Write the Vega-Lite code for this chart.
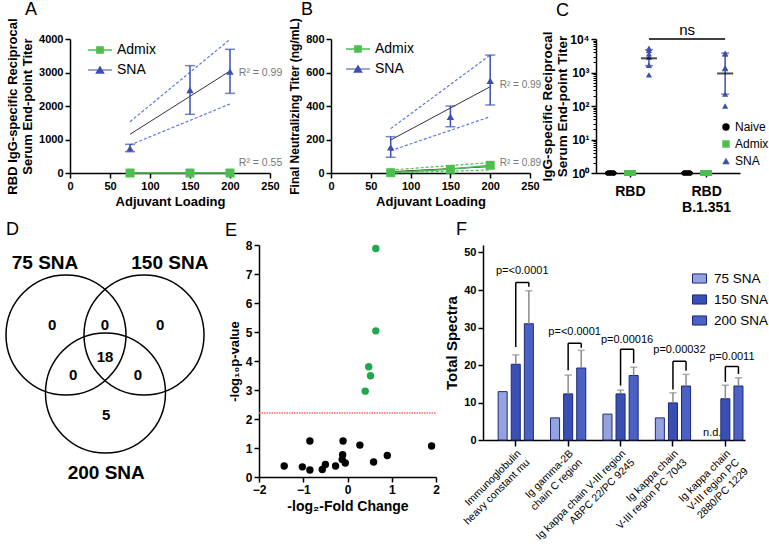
{
"$schema": "https://vega.github.io/schema/vega-lite/v6.json",
"padding": {"left": 2, "top": 0, "right": 0, "bottom": 0},
"autosize": {"type": "pad"},
"background": "white",
"config": {
  "view": {"stroke": null},
  "font": "Liberation Sans",
  "axis": {"labelFont": "Liberation Sans", "titleFont": "Liberation Sans", "labelFontWeight": "bold", "titleFontWeight": "bold", "labelColor": "#000", "titleColor": "#000", "domainColor": "#000", "tickColor": "#000", "domainWidth": 1.5, "tickWidth": 1.5, "tickSize": 5, "grid": false, "labelFontSize": 11, "titleFontSize": 13, "labelFlush": false, "labelOverlap": false},
  "title": {"font": "Liberation Sans", "fontSize": 18, "fontWeight": "normal", "anchor": "start", "frame": "group", "color": "#000"},
  "legend": {"labelFont": "Liberation Sans", "labelColor": "#000"},
  "text": {"font": "Liberation Sans"}
},
"datasets": {
  "abl": [
    {"p":"A","s":"SNA","k":"ci","l":"u","x":75,"y":1530},{"p":"A","s":"SNA","k":"ci","l":"u","x":200,"y":3990},
    {"p":"A","s":"SNA","k":"ci","l":"d","x":75,"y":836},{"p":"A","s":"SNA","k":"ci","l":"d","x":200,"y":2060},
    {"p":"A","s":"SNA","k":"fit","l":"f","x":75,"y":1155},{"p":"A","s":"SNA","k":"fit","l":"f","x":200,"y":3045},
    {"p":"A","s":"Admix","k":"fit","l":"f","x":75,"y":0},{"p":"A","s":"Admix","k":"fit","l":"f","x":200,"y":0},
    {"p":"A","s":"Admix","k":"conn","l":"c","x":75,"y":0},{"p":"A","s":"Admix","k":"conn","l":"c","x":150,"y":0},{"p":"A","s":"Admix","k":"conn","l":"c","x":200,"y":0},
    {"p":"B","s":"SNA","k":"ci","l":"u","x":75,"y":265},{"p":"B","s":"SNA","k":"ci","l":"u","x":200,"y":704},
    {"p":"B","s":"SNA","k":"ci","l":"d","x":75,"y":133},{"p":"B","s":"SNA","k":"ci","l":"d","x":200,"y":336},
    {"p":"B","s":"SNA","k":"fit","l":"f","x":75,"y":197},{"p":"B","s":"SNA","k":"fit","l":"f","x":200,"y":515},
    {"p":"B","s":"Admix","k":"ci","l":"u","x":75,"y":18},{"p":"B","s":"Admix","k":"ci","l":"u","x":200,"y":62},
    {"p":"B","s":"Admix","k":"ci","l":"d","x":75,"y":0},{"p":"B","s":"Admix","k":"ci","l":"d","x":200,"y":18},
    {"p":"B","s":"Admix","k":"fit","l":"f","x":75,"y":8},{"p":"B","s":"Admix","k":"fit","l":"f","x":200,"y":38},
    {"p":"B","s":"Admix","k":"conn","l":"c","x":75,"y":2},{"p":"B","s":"Admix","k":"conn","l":"c","x":150,"y":22},{"p":"B","s":"Admix","k":"conn","l":"c","x":200,"y":46}
  ],
  "abp": [
    {"p":"A","s":"Admix","x":75,"y":0},{"p":"A","s":"Admix","x":150,"y":0},{"p":"A","s":"Admix","x":200,"y":0},
    {"p":"A","s":"SNA","x":75,"y":736,"lo":636,"hi":856},{"p":"A","s":"SNA","x":150,"y":2478,"lo":1752,"hi":3204},{"p":"A","s":"SNA","x":200,"y":3025,"lo":2378,"hi":3692},
    {"p":"B","s":"Admix","x":75,"y":2},{"p":"B","s":"Admix","x":150,"y":22},{"p":"B","s":"Admix","x":200,"y":46},
    {"p":"B","s":"SNA","x":75,"y":153,"lo":94,"hi":217},{"p":"B","s":"SNA","x":150,"y":336,"lo":276,"hi":400},{"p":"B","s":"SNA","x":200,"y":551,"lo":406,"hi":704}
  ],
  "abt": [
    {"p":"A","x":211,"y":2976,"t":"R² = 0.99"},{"p":"A","x":211,"y":290,"t":"R² = 0.55"},
    {"p":"B","x":212,"y":525,"t":"R² = 0.99"},{"p":"B","x":212,"y":58,"t":"R² = 0.89"}
  ],
  "cp": [
    {"k":"RBD|Naive","grp":"Naive","v":1},{"k":"RBD|Naive","grp":"Naive","v":1},{"k":"RBD|Naive","grp":"Naive","v":1},{"k":"RBD|Naive","grp":"Naive","v":1},{"k":"RBD|Naive","grp":"Naive","v":1},{"k":"RBD|Naive","grp":"Naive","v":1},
    {"k":"RBD|Admix","grp":"Admix","v":1},{"k":"RBD|Admix","grp":"Admix","v":1},{"k":"RBD|Admix","grp":"Admix","v":1},{"k":"RBD|Admix","grp":"Admix","v":1},{"k":"RBD|Admix","grp":"Admix","v":1},{"k":"RBD|Admix","grp":"Admix","v":1},
    {"k":"RBD|SNA","grp":"SNA","v":5300},{"k":"RBD|SNA","grp":"SNA","v":4600},{"k":"RBD|SNA","grp":"SNA","v":3600},{"k":"RBD|SNA","grp":"SNA","v":2900},{"k":"RBD|SNA","grp":"SNA","v":1650},{"k":"RBD|SNA","grp":"SNA","v":850},
    {"k":"B|Naive","grp":"Naive","v":1},{"k":"B|Naive","grp":"Naive","v":1},{"k":"B|Naive","grp":"Naive","v":1},{"k":"B|Naive","grp":"Naive","v":1},{"k":"B|Naive","grp":"Naive","v":1},{"k":"B|Naive","grp":"Naive","v":1},
    {"k":"B|Admix","grp":"Admix","v":1},{"k":"B|Admix","grp":"Admix","v":1},{"k":"B|Admix","grp":"Admix","v":1},{"k":"B|Admix","grp":"Admix","v":1},{"k":"B|Admix","grp":"Admix","v":1},{"k":"B|Admix","grp":"Admix","v":1},
    {"k":"B|SNA","grp":"SNA","v":3800},{"k":"B|SNA","grp":"SNA","v":3550},{"k":"B|SNA","grp":"SNA","v":1380},{"k":"B|SNA","grp":"SNA","v":1300},{"k":"B|SNA","grp":"SNA","v":225},{"k":"B|SNA","grp":"SNA","v":100}
  ],
  "cs": [
    {"k":"RBD|SNA","m":2650,"lo":1600,"hi":4800},
    {"k":"B|SNA","m":935,"lo":225,"hi":3800}
  ],
  "cns": [{"k1":"RBD|SNA","k2":"B|SNA","v":10000}],
  "cnt": [{"k":"B|Naive","v":10000,"t":"ns"}],
  "vc": [{"x":0,"y":0},{"x":1.3,"y":0},{"x":0.658,"y":-0.967}],
  "vt": [
    {"x":-0.35,"y":1.2,"t":"75 SNA","k":"h"},{"x":1.73,"y":1.2,"t":"150 SNA","k":"h"},{"x":0.67,"y":-2.3,"t":"200 SNA","k":"h"},
    {"x":-0.23,"y":0.17,"t":"0","k":"n"},{"x":0.65,"y":0.17,"t":"0","k":"n"},{"x":1.57,"y":0.17,"t":"0","k":"n"},
    {"x":0.65,"y":-0.37,"t":"18","k":"n"},{"x":0.12,"y":-0.67,"t":"0","k":"n"},{"x":1.2,"y":-0.67,"t":"0","k":"n"},
    {"x":0.67,"y":-1.33,"t":"5","k":"n"}
  ],
  "ep": [
    {"x":0.64,"y":7.88,"s":"sig"},{"x":0.64,"y":5.04,"s":"sig"},{"x":0.48,"y":3.80,"s":"sig"},{"x":0.52,"y":3.49,"s":"sig"},{"x":0.40,"y":2.96,"s":"sig"},
    {"x":-1.43,"y":0.38,"s":"ns"},{"x":-1.02,"y":0.35,"s":"ns"},{"x":-0.85,"y":1.24,"s":"ns"},{"x":-0.85,"y":0.24,"s":"ns"},{"x":-0.57,"y":0.26,"s":"ns"},
    {"x":-0.50,"y":0.43,"s":"ns"},{"x":-0.27,"y":0.38,"s":"ns"},{"x":-0.10,"y":1.24,"s":"ns"},{"x":-0.11,"y":0.77,"s":"ns"},{"x":-0.12,"y":0.60,"s":"ns"},
    {"x":-0.05,"y":0.48,"s":"ns"},{"x":0.28,"y":1.10,"s":"ns"},{"x":0.59,"y":0.52,"s":"ns"},{"x":0.90,"y":0.74,"s":"ns"},{"x":1.90,"y":1.07,"s":"ns"}
  ],
  "eth": [{"y":2.21,"xa":-2,"xb":2}],
  "fb": [
    {"k":"1|75","s":"75 SNA","v":12.9},{"k":"1|150","s":"150 SNA","v":20.2,"hi":22.7},{"k":"1|200","s":"200 SNA","v":31.0,"hi":39.8},
    {"k":"2|75","s":"75 SNA","v":5.9},{"k":"2|150","s":"150 SNA","v":12.3,"hi":17.3},{"k":"2|200","s":"200 SNA","v":19.2,"hi":23.9},
    {"k":"3|75","s":"75 SNA","v":6.9},{"k":"3|150","s":"150 SNA","v":12.3,"hi":13.3},{"k":"3|200","s":"200 SNA","v":17.2,"hi":19.4},
    {"k":"4|75","s":"75 SNA","v":5.9},{"k":"4|150","s":"150 SNA","v":9.9,"hi":12.6},{"k":"4|200","s":"200 SNA","v":14.4,"hi":17.5},
    {"k":"5|150","s":"150 SNA","v":11.0,"hi":14.6},{"k":"5|200","s":"200 SNA","v":14.4,"hi":16.6}
  ],
  "fleg": [
    {"k":"1|150","a":24.8,"b":42.0},{"k":"1|200","a":40.9,"b":42.0},
    {"k":"2|150","a":18.6,"b":25.8},{"k":"2|200","a":24.6,"b":25.8},
    {"k":"3|150","a":14.5,"b":24.2},{"k":"3|200","a":20.5,"b":24.2},
    {"k":"4|150","a":13.5,"b":21.0},{"k":"4|200","a":18.5,"b":21.0},
    {"k":"5|150","a":15.5,"b":19.6},{"k":"5|200","a":17.6,"b":19.6}
  ],
  "fh": [
    {"k1":"1|150","k2":"1|200","y":42.0,"ty":45.0,"t":"p=<0.0001"},
    {"k1":"2|150","k2":"2|200","y":25.8,"ty":28.8,"t":"p=<0.0001"},
    {"k1":"3|150","k2":"3|200","y":24.2,"ty":26.7,"t":"p=0.00016"},
    {"k1":"4|150","k2":"4|200","y":21.0,"ty":23.9,"t":"p=0.00032"},
    {"k1":"5|150","k2":"5|200","y":19.6,"ty":22.1,"t":"p=0.0011"}
  ],
  "fnd": [{"k":"5|75","y":0,"t":"n.d."}]
},
"spacing": 7,
"resolve": {"scale": {"color": "independent", "shape": "independent", "size": "independent", "fill": "independent"}, "legend": {"color": "independent", "shape": "independent", "size": "independent", "fill": "independent"}},
"vconcat": [
{
"hconcat": [
{
  "width": 200, "height": 134,
  "title": {"text": "A", "dx": -45, "offset": -1},
  "encoding": {"x": {"field": "x", "type": "quantitative", "scale": {"domain": [0, 250], "nice": false}, "axis": {"values": [0,50,100,150,200,250], "title": "Adjuvant Loading", "titleFontSize": 13}}},
  "layer": [
    {"data": {"name": "abl"}, "transform": [{"filter": "datum.p == 'A' && datum.k == 'ci' && datum.s == 'SNA'"}],
     "mark": {"type": "line", "color": "#5a78e6", "strokeWidth": 1.2, "strokeDash": [3, 2]},
     "encoding": {"y": {"field": "y", "type": "quantitative", "scale": {"domain": [0, 4000], "nice": false}, "axis": {"values": [0,1000,2000,3000,4000], "format": "d", "title": ["RBD IgG-specific Reciprocal", "Serum End-point Titer"], "titleFontSize": 13}}, "detail": {"field": "l"}}},
    {"data": {"name": "abl"}, "transform": [{"filter": "datum.p == 'A' && datum.k == 'fit'"}],
     "mark": {"type": "line", "color": "#333333", "strokeWidth": 1},
     "encoding": {"y": {"field": "y", "type": "quantitative", "axis": {"values": [0,1000,2000,3000,4000], "format": "d"}}, "detail": {"field": "s"}}},
    {"data": {"name": "abl"}, "transform": [{"filter": "datum.p == 'A' && datum.k == 'conn'"}],
     "mark": {"type": "line", "color": "#4cbf4f", "strokeWidth": 1.5},
     "encoding": {"y": {"field": "y", "type": "quantitative", "axis": {"values": [0,1000,2000,3000,4000], "format": "d"}}}},
    {"data": {"name": "abp"}, "transform": [{"filter": "datum.p == 'A' && isValid(datum.hi)"}],
     "mark": {"type": "rule", "color": "#3b50b0", "strokeWidth": 1.5},
     "encoding": {"y": {"field": "lo", "type": "quantitative", "axis": {"values": [0,1000,2000,3000,4000], "format": "d"}}, "y2": {"field": "hi"}}},
    {"data": {"name": "abp"}, "transform": [{"filter": "datum.p == 'A' && isValid(datum.hi)"}, {"fold": ["lo", "hi"], "as": ["end", "v"]}],
     "mark": {"type": "tick", "orient": "horizontal", "color": "#3b50b0", "size": 10, "thickness": 1.5},
     "encoding": {"y": {"field": "v", "type": "quantitative", "axis": {"values": [0,1000,2000,3000,4000], "format": "d"}}}},
    {"data": {"name": "abp"}, "transform": [{"filter": "datum.p == 'A' && datum.s == 'Admix'"}],
     "mark": {"type": "point", "filled": true, "opacity": 1, "shape": "square", "size": 80, "color": "#4cbf4f"},
     "encoding": {"y": {"field": "y", "type": "quantitative", "axis": {"values": [0,1000,2000,3000,4000], "format": "d"}}}},
    {"data": {"name": "abp"}, "transform": [{"filter": "datum.p == 'A' && datum.s == 'SNA'"}],
     "mark": {"type": "point", "filled": true, "opacity": 1, "shape": "triangle-up", "size": 55, "color": "#3b50b0"},
     "encoding": {"y": {"field": "y", "type": "quantitative", "axis": {"values": [0,1000,2000,3000,4000], "format": "d"}}}},
    {"data": {"name": "abp"}, "transform": [{"filter": "false"}],
     "mark": {"type": "point", "filled": true, "opacity": 1},
     "encoding": {
       "y": {"field": "y", "type": "quantitative", "axis": {"values": [0,1000,2000,3000,4000], "format": "d"}},
       "color": {"field": "s", "type": "nominal", "scale": {"domain": ["Admix", "SNA"], "range": ["#4cbf4f", "#3b50b0"]},
         "legend": {"orient": "none", "legendX": 17, "legendY": -2, "title": null, "labelFontSize": 14, "labelFontWeight": "normal", "symbolSize": 576, "rowPadding": 0, "labelOffset": 4, "symbolOpacity": 1}},
       "shape": {"field": "s", "type": "nominal", "scale": {"domain": ["Admix", "SNA"], "range": ["M-1,-0.06H1V0.06H-1ZM-0.32,-0.32H0.32V0.32H-0.32Z", "M-1,-0.05H1V0.05H-1ZM0,-0.38L0.4,0.32H-0.4Z"]}, "legend": null}}},
    {"data": {"name": "abt"}, "transform": [{"filter": "datum.p == 'A'"}],
     "mark": {"type": "text", "align": "left", "baseline": "middle", "fontSize": 10.5, "color": "#777777"},
     "encoding": {"y": {"field": "y", "type": "quantitative", "axis": {"values": [0,1000,2000,3000,4000], "format": "d"}}, "text": {"field": "t"}}}
  ]
},
{
  "width": 204, "height": 134,
  "title": {"text": "B", "dx": -30, "offset": -1},
  "encoding": {"x": {"field": "x", "type": "quantitative", "scale": {"domain": [0, 250], "nice": false, "range": [0, 199]}, "axis": {"values": [0,50,100,150,200,250], "title": "Adjuvant Loading", "titleFontSize": 13}}},
  "layer": [
    {"data": {"name": "abl"}, "transform": [{"filter": "datum.p == 'B' && datum.k == 'ci' && datum.s == 'SNA'"}],
     "mark": {"type": "line", "color": "#5a78e6", "strokeWidth": 1.2, "strokeDash": [3, 2]},
     "encoding": {"y": {"field": "y", "type": "quantitative", "scale": {"domain": [0, 800], "nice": false}, "axis": {"values": [0,200,400,600,800], "format": "d", "title": "Final Neutralizing Titer (ng/mL)", "titleFontSize": 12}}, "detail": {"field": "l"}}},
    {"data": {"name": "abl"}, "transform": [{"filter": "datum.p == 'B' && datum.k == 'ci' && datum.s == 'Admix'"}],
     "mark": {"type": "line", "color": "#4cbf4f", "strokeWidth": 1.2, "strokeDash": [3, 2]},
     "encoding": {"y": {"field": "y", "type": "quantitative", "axis": {"values": [0,200,400,600,800], "format": "d"}}, "detail": {"field": "l"}}},
    {"data": {"name": "abl"}, "transform": [{"filter": "datum.p == 'B' && datum.k == 'fit'"}],
     "mark": {"type": "line", "color": "#333333", "strokeWidth": 1},
     "encoding": {"y": {"field": "y", "type": "quantitative", "axis": {"values": [0,200,400,600,800], "format": "d"}}, "detail": {"field": "s"}}},
    {"data": {"name": "abl"}, "transform": [{"filter": "datum.p == 'B' && datum.k == 'conn'"}],
     "mark": {"type": "line", "color": "#4cbf4f", "strokeWidth": 1.5},
     "encoding": {"y": {"field": "y", "type": "quantitative", "axis": {"values": [0,200,400,600,800], "format": "d"}}}},
    {"data": {"name": "abp"}, "transform": [{"filter": "datum.p == 'B' && isValid(datum.hi)"}],
     "mark": {"type": "rule", "color": "#3b50b0", "strokeWidth": 1.5},
     "encoding": {"y": {"field": "lo", "type": "quantitative", "axis": {"values": [0,200,400,600,800], "format": "d"}}, "y2": {"field": "hi"}}},
    {"data": {"name": "abp"}, "transform": [{"filter": "datum.p == 'B' && isValid(datum.hi)"}, {"fold": ["lo", "hi"], "as": ["end", "v"]}],
     "mark": {"type": "tick", "orient": "horizontal", "color": "#3b50b0", "size": 10, "thickness": 1.5},
     "encoding": {"y": {"field": "v", "type": "quantitative", "axis": {"values": [0,200,400,600,800], "format": "d"}}}},
    {"data": {"name": "abp"}, "transform": [{"filter": "datum.p == 'B' && datum.s == 'Admix'"}],
     "mark": {"type": "point", "filled": true, "opacity": 1, "shape": "square", "size": 80, "color": "#4cbf4f"},
     "encoding": {"y": {"field": "y", "type": "quantitative", "axis": {"values": [0,200,400,600,800], "format": "d"}}}},
    {"data": {"name": "abp"}, "transform": [{"filter": "datum.p == 'B' && datum.s == 'SNA'"}],
     "mark": {"type": "point", "filled": true, "opacity": 1, "shape": "triangle-up", "size": 55, "color": "#3b50b0"},
     "encoding": {"y": {"field": "y", "type": "quantitative", "axis": {"values": [0,200,400,600,800], "format": "d"}}}},
    {"data": {"name": "abp"}, "transform": [{"filter": "false"}],
     "mark": {"type": "point", "filled": true, "opacity": 1},
     "encoding": {
       "y": {"field": "y", "type": "quantitative", "axis": {"values": [0,200,400,600,800], "format": "d"}},
       "color": {"field": "s", "type": "nominal", "scale": {"domain": ["Admix", "SNA"], "range": ["#4cbf4f", "#3b50b0"]},
         "legend": {"orient": "none", "legendX": 14, "legendY": -3, "title": null, "labelFontSize": 14, "labelFontWeight": "normal", "symbolSize": 576, "rowPadding": 0, "labelOffset": 4, "symbolOpacity": 1}},
       "shape": {"field": "s", "type": "nominal", "scale": {"domain": ["Admix", "SNA"], "range": ["M-1,-0.06H1V0.06H-1ZM-0.32,-0.32H0.32V0.32H-0.32Z", "M-1,-0.05H1V0.05H-1ZM0,-0.38L0.4,0.32H-0.4Z"]}, "legend": null}}},
    {"data": {"name": "abt"}, "transform": [{"filter": "datum.p == 'B'"}],
     "mark": {"type": "text", "align": "left", "baseline": "middle", "fontSize": 10, "color": "#777777"},
     "encoding": {"y": {"field": "y", "type": "quantitative", "axis": {"values": [0,200,400,600,800], "format": "d"}}, "text": {"field": "t"}}}
  ]
},
{
  "width": 144, "height": 134,
  "title": {"text": "C", "dx": -40, "offset": 3},
  "resolve": {"axis": {"y": "independent"}},
  "encoding": {
    "x": {"field": "k", "type": "nominal", "scale": {"type": "point", "domain": ["RBD|Naive", "RBD|Admix", "RBD|SNA", "gap", "B|Naive", "B|Admix", "B|SNA"], "padding": 0.78},
      "axis": {"title": null, "values": ["RBD|Admix", "B|Admix"], "labelAngle": 0, "labelFontSize": 14, "labelExpr": "datum.value == 'RBD|Admix' ? 'RBD' : ['RBD', 'B.1.351']", "tickSize": 4, "labelPadding": 7, "labelLineHeight": 16}}
  },
  "layer": [
    {"data": {"name": "cs"},
     "mark": {"type": "tick", "opacity": 0},
     "encoding": {"y": {"field": "m", "type": "quantitative", "scale": {"type": "log", "domain": [1, 10000], "nice": false},
       "axis": {"orient": "left", "values": [1,10,100,1000,10000], "labelExpr": "datum.value == 1 ? '10⁰' : datum.value == 10 ? '10¹' : datum.value == 100 ? '10²' : datum.value == 1000 ? '10³' : '10⁴'", "title": ["IgG-specific Reciprocal", "Serum End-point Titer"], "titleFontSize": 13.5, "labelFontSize": 12, "titlePadding": 0}}}},
    {"data": {"name": "cs"},
     "mark": {"type": "tick", "opacity": 0},
     "encoding": {"y": {"field": "m", "type": "quantitative",
       "axis": {"orient": "left", "values": [2,3,4,5,6,7,8,9,20,30,40,50,60,70,80,90,200,300,400,500,600,700,800,900,2000,3000,4000,5000,6000,7000,8000,9000], "labels": false, "domain": false, "tickSize": 3, "tickWidth": 1, "title": null}}}},
    {"data": {"name": "cs"},
     "mark": {"type": "rule", "color": "#3b50b0", "strokeWidth": 1.5},
     "encoding": {"y": {"field": "lo", "type": "quantitative", "axis": null}, "y2": {"field": "hi"}}},
    {"data": {"name": "cs"}, "transform": [{"fold": ["lo", "hi"], "as": ["end", "v"]}],
     "mark": {"type": "tick", "orient": "horizontal", "color": "#3b50b0", "size": 8, "thickness": 1.5},
     "encoding": {"y": {"field": "v", "type": "quantitative", "axis": null}}},
    {"data": {"name": "cp"},
     "mark": {"type": "point", "filled": true, "opacity": 1},
     "encoding": {
       "y": {"field": "v", "type": "quantitative", "axis": null},
       "color": {"condition": [{"test": "datum.grp == 'Naive'", "value": "#000000"}, {"test": "datum.grp == 'Admix'", "value": "#4cbf4f"}], "value": "#3b50b0"},
       "shape": {"condition": [{"test": "datum.grp == 'Naive'", "value": "M-0.55,-0.4H0.55A0.4,0.4 0 0 1 0.55,0.4H-0.55A0.4,0.4 0 0 1 -0.55,-0.4Z"}, {"test": "datum.grp == 'Admix'", "value": "M-1,-0.5H1V0.5H-1Z"}], "value": "triangle-up"},
       "size": {"condition": [{"test": "datum.grp == 'Naive'", "value": 134}, {"test": "datum.grp == 'Admix'", "value": 121}], "value": 38}}},
    {"data": {"name": "cs"},
     "mark": {"type": "tick", "orient": "horizontal", "color": "#000000", "size": 16, "thickness": 2},
     "encoding": {"y": {"field": "m", "type": "quantitative", "axis": null}}},
    {"data": {"name": "cns"},
     "mark": {"type": "rule", "color": "#000000", "strokeWidth": 1.5},
     "encoding": {"x": {"field": "k1", "type": "nominal"}, "x2": {"field": "k2"}, "y": {"field": "v", "type": "quantitative", "axis": null}}},
    {"data": {"name": "cnt"},
     "mark": {"type": "text", "fontSize": 15, "baseline": "bottom", "dy": -1},
     "encoding": {"y": {"field": "v", "type": "quantitative", "axis": null}, "text": {"field": "t"}}},
    {"data": {"name": "cp"}, "transform": [{"filter": "false"}],
     "mark": {"type": "point", "filled": true, "opacity": 1},
     "encoding": {
       "y": {"field": "v", "type": "quantitative", "axis": null},
       "color": {"field": "grp", "type": "nominal", "scale": {"domain": ["Naive", "Admix", "SNA"], "range": ["#000000", "#4cbf4f", "#3b50b0"]},
         "legend": {"orient": "none", "legendX": 124, "legendY": 82, "title": null, "labelFontSize": 12, "labelFontWeight": "normal", "symbolSize": 55, "rowPadding": 5, "labelOffset": 3, "symbolOpacity": 1}},
       "shape": {"field": "grp", "type": "nominal", "scale": {"domain": ["Naive", "Admix", "SNA"], "range": ["circle", "square", "triangle-up"]}, "legend": null}}}
  ]
}
],
"spacing": 61,
"bounds": "flush",
"resolve": {"scale": {"color": "independent", "shape": "independent", "size": "independent", "fill": "independent"}, "legend": {"color": "independent", "shape": "independent", "size": "independent", "fill": "independent"}}
},
{
"hconcat": [
{
  "width": 142, "height": 232,
  "title": {"text": "D", "dx": -64, "offset": 3, "dy": -3},
  "encoding": {
    "x": {"field": "x", "type": "quantitative", "scale": {"domain": [0.0667, 2.433], "nice": false, "zero": false}, "axis": null},
    "y": {"field": "y", "type": "quantitative", "scale": {"domain": [-2.367, 1.5], "nice": false, "zero": false}, "axis": null}
  },
  "layer": [
    {"data": {"name": "vc"}, "mark": {"type": "point", "shape": "circle", "filled": false, "size": 14400, "color": "#000000", "strokeWidth": 1.5, "opacity": 1}},
    {"data": {"name": "vt"}, "transform": [{"filter": "datum.k == 'h'"}], "mark": {"type": "text", "fontSize": 19, "fontWeight": "bold"}, "encoding": {"text": {"field": "t"}}},
    {"data": {"name": "vt"}, "transform": [{"filter": "datum.k == 'n'"}], "mark": {"type": "text", "fontSize": 15, "fontWeight": "bold"}, "encoding": {"text": {"field": "t"}}}
  ]
},
{
  "width": 177, "height": 232,
  "title": {"text": "E", "dx": -34, "offset": -4, "dy": -3},
  "layer": [
    {"data": {"name": "ep"},
     "mark": {"type": "circle", "size": 55, "opacity": 1},
     "encoding": {
       "x": {"field": "x", "type": "quantitative", "scale": {"domain": [-2, 2], "nice": false}, "axis": {"values": [-2,-1,0,1,2], "title": "-log₂-Fold Change", "titleFontSize": 14, "labelFontSize": 12}},
       "y": {"field": "y", "type": "quantitative", "scale": {"domain": [0, 8], "nice": false}, "axis": {"values": [0,1,2,3,4,5,6,7,8], "title": "-log₁₀p-value", "titleFontSize": 13, "labelFontSize": 12}},
       "color": {"field": "s", "type": "nominal", "scale": {"domain": ["sig", "ns"], "range": ["#1fa84c", "#000000"]}, "legend": null}}},
    {"data": {"name": "eth"},
     "mark": {"type": "rule", "color": "#f26b6b", "strokeWidth": 1.5, "strokeDash": [1.5, 1]},
     "encoding": {"y": {"field": "y", "type": "quantitative", "axis": {"values": [0,1,2,3,4,5,6,7,8], "labelFontSize": 12}}, "x": {"field": "xa", "type": "quantitative", "axis": {"values": [-2,-1,0,1,2], "labelFontSize": 12}}, "x2": {"field": "xb"}}}
  ]
},
{
  "width": 262, "height": 195,
  "title": {"text": "F", "dx": -27, "offset": 3, "dy": -3},
  "encoding": {
    "x": {"field": "k", "type": "nominal", "sort": null, "scale": {"type": "band", "domain": ["1|sp","1|75","1|150","1|200","2|sp","2|75","2|150","2|200","3|sp","3|75","3|150","3|200","4|sp","4|75","4|150","4|200","5|sp","5|75","5|150","5|200"], "paddingInner": 0.31, "paddingOuter": 0.155},
      "axis": {"title": null, "values": ["1|150","2|150","3|150","4|150","5|150"], "labelExpr": "datum.value == '1|150' ? ['Immunoglobulin', 'heavy constant mu'] : datum.value == '2|150' ? ['Ig gamma-2B', 'chain C region'] : datum.value == '3|150' ? ['Ig kappa chain V-III region', 'ABPC 22/PC 9245'] : datum.value == '4|150' ? ['Ig kappa chain', 'V-III region PC 7043'] : ['Ig kappa chain', 'V-III region PC', '2880/PC 1229']", "labelAngle": -45, "labelAlign": "right", "labelBaseline": "top", "labelFontWeight": "normal", "labelFontSize": 10.5, "labelLineHeight": 12.5, "tickSize": 6, "labelPadding": 2}}
  },
  "layer": [
    {"data": {"name": "fb"},
     "mark": {"type": "bar", "stroke": "#1a2a78", "strokeWidth": 1},
     "encoding": {
       "y": {"field": "v", "type": "quantitative", "scale": {"domain": [0, 52], "nice": false}, "axis": {"values": [0,10,20,30,40,50], "title": "Total Spectra", "titleFontSize": 15, "labelFontSize": 11}},
       "fill": {"field": "s", "type": "nominal", "scale": {"domain": ["75 SNA", "150 SNA", "200 SNA"], "range": ["#94a3e0", "#3a4fb3", "#4c61c4"]},
         "legend": {"orient": "none", "legendX": 209, "legendY": 26, "title": null, "labelFontSize": 13.5, "labelFontWeight": "normal", "symbolType": "M-1,-0.65H1V0.65H-1Z", "symbolSize": 196, "rowPadding": 6, "labelOffset": 7, "symbolStrokeColor": "#1a2a78", "symbolStrokeWidth": 1}}}},
    {"data": {"name": "fb"}, "transform": [{"filter": "isValid(datum.hi)"}],
     "mark": {"type": "rule", "color": "#8c8c8c", "strokeWidth": 1.5},
     "encoding": {"y": {"field": "v", "type": "quantitative", "axis": {"values": [0,10,20,30,40,50]}}, "y2": {"field": "hi"}}},
    {"data": {"name": "fb"}, "transform": [{"filter": "isValid(datum.hi)"}],
     "mark": {"type": "tick", "orient": "horizontal", "color": "#8c8c8c", "size": 7, "thickness": 1.5},
     "encoding": {"y": {"field": "hi", "type": "quantitative", "axis": {"values": [0,10,20,30,40,50]}}}},
    {"data": {"name": "fleg"},
     "mark": {"type": "rule", "color": "#000000", "strokeWidth": 1.5},
     "encoding": {"y": {"field": "a", "type": "quantitative", "axis": {"values": [0,10,20,30,40,50]}}, "y2": {"field": "b"}}},
    {"data": {"name": "fh"},
     "mark": {"type": "rule", "color": "#000000", "strokeWidth": 1.5},
     "encoding": {"x": {"field": "k1", "type": "nominal"}, "x2": {"field": "k2"}, "y": {"field": "y", "type": "quantitative", "axis": {"values": [0,10,20,30,40,50]}}}},
    {"data": {"name": "fh"},
     "mark": {"type": "text", "fontSize": 11, "baseline": "middle", "dx": 6.5},
     "encoding": {"x": {"field": "k1", "type": "nominal"}, "y": {"field": "ty", "type": "quantitative", "axis": {"values": [0,10,20,30,40,50]}}, "text": {"field": "t"}}},
    {"data": {"name": "fnd"},
     "mark": {"type": "text", "fontSize": 11, "baseline": "bottom", "dy": -2},
     "encoding": {"y": {"field": "y", "type": "quantitative", "axis": {"values": [0,10,20,30,40,50]}}, "text": {"field": "t"}}}
  ]
}
],
"spacing": 47,
"bounds": "flush",
"resolve": {"scale": {"color": "independent", "shape": "independent", "size": "independent", "fill": "independent"}, "legend": {"color": "independent", "shape": "independent", "size": "independent", "fill": "independent"}}
}
]
}
